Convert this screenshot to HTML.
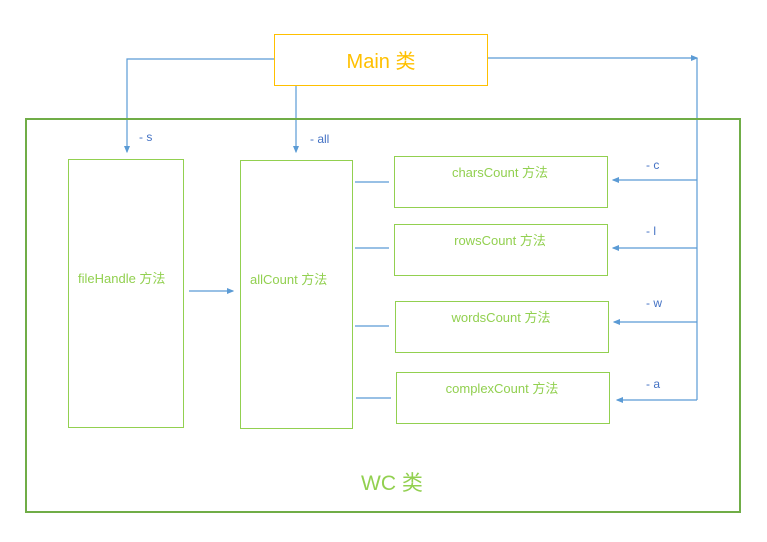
<!DOCTYPE html>
<html><head><meta charset="utf-8"><style>
html,body{margin:0;padding:0;background:#fff;width:767px;height:542px;overflow:hidden}
svg{display:block;font-family:"Liberation Sans","Noto Sans CJK SC",sans-serif}
</style></head><body>
<svg width="767" height="542" viewBox="0 0 767 542">
<defs><marker id="ah" markerWidth="6" markerHeight="6" refX="5" refY="3" orient="auto"><path d="M0,0.5 L6,3 L0,5.5 z" fill="#5b9bd5"/></marker></defs>
<g fill="none" stroke="#5b9bd5" stroke-width="1.2">
<path d="M274,59 H127 V152" marker-end="url(#ah)"/>
<path d="M296,85 V152" marker-end="url(#ah)"/>
<path d="M487,58 H697" marker-end="url(#ah)"/>
<path d="M697,58 V400"/>
<path d="M697,180 H613" marker-end="url(#ah)"/>
<path d="M697,248 H613" marker-end="url(#ah)"/>
<path d="M697,322 H614" marker-end="url(#ah)"/>
<path d="M697,400 H617" marker-end="url(#ah)"/>
<path d="M189,291 H233" marker-end="url(#ah)"/>
<path d="M355,182 H389"/>
<path d="M355,248 H389"/>
<path d="M355,326 H389"/>
<path d="M356,398 H391"/>
</g>
<rect x="26" y="119" width="714" height="393" fill="none" stroke="#70ad47" stroke-width="2"/>
<rect x="274.5" y="34.5" width="213" height="51" fill="#fff" stroke="#ffc000" stroke-width="1"/>
<text x="381" y="68" font-size="20" fill="#ffc000" text-anchor="middle">Main 类</text>
<g fill="none" stroke="#92d050" stroke-width="1">
<rect x="68.5" y="159.5" width="115" height="268"/>
<rect x="240.5" y="160.5" width="112" height="268"/>
<rect x="394.5" y="156.5" width="213" height="51"/>
<rect x="394.5" y="224.5" width="213" height="51"/>
<rect x="395.5" y="301.5" width="213" height="51"/>
<rect x="396.5" y="372.5" width="213" height="51"/>
</g>
<g fill="#92d050" font-size="13">
<text x="78" y="283">fileHandle 方法</text>
<text x="250" y="284">allCount 方法</text>
<text x="500" y="177" text-anchor="middle">charsCount 方法</text>
<text x="500" y="245" text-anchor="middle">rowsCount 方法</text>
<text x="501" y="322" text-anchor="middle">wordsCount 方法</text>
<text x="502" y="393" text-anchor="middle">complexCount 方法</text>
<text x="361" y="490" font-size="21">WC 类</text>
</g>
<g fill="#4472c4" font-size="12">
<text x="139" y="141">- s</text>
<text x="310" y="143">- all</text>
<text x="646" y="169">- c</text>
<text x="646" y="235">- l</text>
<text x="646" y="307">- w</text>
<text x="646" y="388">- a</text>
</g>
</svg>
</body></html>
